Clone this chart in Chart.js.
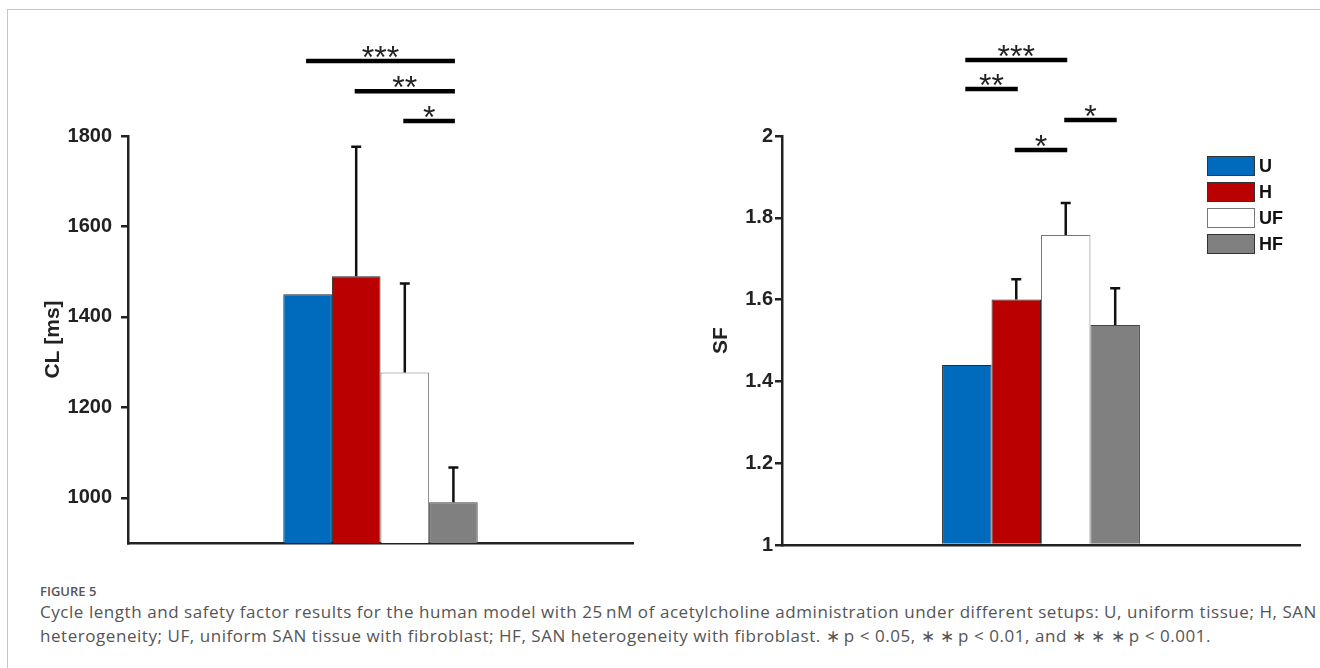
<!DOCTYPE html>
<html>
<head>
<meta charset="utf-8">
<script src="https://cdn.jsdelivr.net/npm/chart.js@4.4.0/dist/chart.umd.min.js"></script>
<style>
  body { margin: 0; background: #fff; width: 1320px; height: 668px; overflow: hidden; position: relative; }
  #frame { position: absolute; left: 7px; top: 9px; width: 1320px; height: 700px;
           border-left: 1px solid #c6c6c6; border-top: 1px solid #c6c6c6; }
  .wrap { position: absolute; top: 0; width: 660px; height: 570px; }
  #legend { position: absolute; left: 1207px; top: 156px; font-family: "Liberation Sans", Arial, sans-serif; }
  .item { height: 26px; display: flex; align-items: flex-start; }
  .box { width: 46px; height: 18px; border: 1px solid #333; }
  .lab { margin-left: 4px; font-weight: bold; font-size: 18px; line-height: 20px; color: #111; }
  #caption { position: absolute; left: 40px; top: 582px; font-family: "Open Sans", sans-serif; color: #555; }
  #fig { font-size: 13px; font-weight: 600; line-height: 18px; color: #555; }
  .cl { font-size: 17px; letter-spacing: 0.55px; line-height: 24px; white-space: nowrap; color: #555; }
</style>
</head>
<body>
<div id="frame"></div>
<div class="wrap" style="left:0"><canvas id="clChart"></canvas></div>
<div class="wrap" style="left:660px"><canvas id="sfChart"></canvas></div>
<div id="legend"></div>
<div id="caption">
  <div id="fig">FIGURE 5</div>
  <div class="cl">Cycle length and safety factor results for the human model with 25&#8201;nM of acetylcholine administration under different setups: U, uniform tissue; H, SAN</div>
  <div class="cl">heterogeneity; UF, uniform SAN tissue with fibroblast; HF, SAN heterogeneity with fibroblast. &#8727;&#8201;p &lt; 0.05, &#8727; &#8727;&#8201;p &lt; 0.01, and &#8727; &#8727; &#8727;&#8201;p &lt; 0.001.</div>
</div>
<script>
const groups = ["U", "H", "UF", "HF"];
const fillColors = ["#006BBD", "#BB0000", "#FFFFFF", "#808080"];
const edgeColors = ["#2a2a2a", "#2a2a2a", "#777777", "#444444"];

// cycle length [ms]
const clMean = [1450, 1490, 1277, 990];
const clErr = [0, 286, 197, 77];
const clTicks = [1000, 1200, 1400, 1600, 1800];
const clSig = [
  { from: 0, to: 3, y: 1966, text: "***" },
  { from: 1, to: 3, y: 1899, text: "**" },
  { from: 2, to: 3, y: 1833, text: "*" }
];

// safety factor
const sfMean = [1.44, 1.6, 1.758, 1.538];
const sfErr = [0, 0.05, 0.078, 0.09];
const sfTicks = [1, 1.2, 1.4, 1.6, 1.8, 2];
const sfSig = [
  { from: 0, to: 2, y: 2.186, text: "***" },
  { from: 0, to: 1, y: 2.115, text: "**" },
  { from: 2, to: 3, y: 2.039, text: "*" },
  { from: 1, to: 2, y: 1.966, text: "*" }
];

const ink = "#222";

const errorBars = {
  id: "errorBars",
  afterDatasetsDraw(chart) {
    const ctx = chart.ctx, y = chart.scales.y;
    chart.data.datasets.forEach((ds, i) => {
      if (!ds.err) return;
      const bar = chart.getDatasetMeta(i).data[0];
      const top = y.getPixelForValue(ds.data[0] + ds.err);
      ctx.save();
      ctx.strokeStyle = "#111";
      ctx.lineWidth = 2.5;
      ctx.beginPath();
      ctx.moveTo(bar.x, bar.y);
      ctx.lineTo(bar.x, top);
      ctx.moveTo(bar.x - 5, top);
      ctx.lineTo(bar.x + 5, top);
      ctx.stroke();
      ctx.restore();
    });
  }
};

const sigBars = {
  id: "sigBars",
  afterDraw(chart, args, opts) {
    const ctx = chart.ctx, y = chart.scales.y;
    (opts.list || []).forEach(s => {
      const x1 = chart.getDatasetMeta(s.from).data[0].x;
      const x2 = chart.getDatasetMeta(s.to).data[0].x;
      const yp = y.getPixelForValue(s.y);
      ctx.save();
      ctx.strokeStyle = "#000";
      ctx.lineWidth = 4.5;
      ctx.beginPath();
      ctx.moveTo(x1 - 1.5, yp);
      ctx.lineTo(x2 + 1.5, yp);
      ctx.stroke();
      ctx.fillStyle = "#222";
      ctx.font = "32px 'Liberation Sans', Arial, sans-serif";
      ctx.textAlign = "center";
      ctx.textBaseline = "alphabetic";
      ctx.fillText(s.text, (x1 + x2) / 2, yp + 7);
      ctx.restore();
    });
  }
};

function makeChart(id, means, errs, ticks, yMin, yMax, title, sig, g) {
  return new Chart(document.getElementById(id), {
    type: "bar",
    data: {
      labels: [""],
      datasets: groups.map((name, i) => ({
        label: name,
        data: [means[i]],
        err: errs[i],
        base: yMin,
        backgroundColor: fillColors[i],
        borderColor: edgeColors[i],
        borderWidth: 1,
        categoryPercentage: g.cat,
        barPercentage: 1
      }))
    },
    options: {
      responsive: true,
      maintainAspectRatio: false,
      animation: false,
      layout: { padding: { left: 0, top: 136, right: g.padRight, bottom: g.padBottom } },
      plugins: {
        legend: { display: false },
        tooltip: { enabled: false },
        sigBars: { list: sig }
      },
      scales: {
        x: {
          grid: { display: false },
          ticks: { display: false },
          border: { display: true, color: ink, width: 2.5 },
          afterFit: s => { s.height = 0; }
        },
        y: {
          min: yMin,
          max: yMax,
          afterBuildTicks: s => { s.ticks = ticks.map(v => ({ value: v })); },
          afterFit: s => { s.width = g.axisW; },
          grid: { drawOnChartArea: false, drawTicks: true, tickLength: 7, color: ink, lineWidth: 2.5 },
          border: { display: true, color: ink, width: 2.5 },
          ticks: {
            padding: g.tickPad,
            color: ink,
            font: { family: "'Liberation Sans', Arial, sans-serif", size: 20, weight: "bold" },
            callback: v => String(v)
          },
          title: {
            display: true,
            text: title,
            color: ink,
            font: { family: "'Liberation Sans', Arial, sans-serif", size: 21, weight: "bold" },
            padding: { top: g.titlePad, bottom: 0 }
          }
        }
      }
    },
    plugins: [errorBars, sigBars]
  });
}

makeChart("clChart", clMean, clErr, clTicks, 900, 1800, "CL [ms]", clSig,
  { cat: 0.385, padRight: 27, padBottom: 27, axisW: 128, tickPad: 9, titlePad: 41 });
makeChart("sfChart", sfMean, sfErr, sfTicks, 1, 2, "SF", sfSig,
  { cat: 0.382, padRight: 20, padBottom: 25, axisW: 122, tickPad: 2, titlePad: 49 });

const legend = document.getElementById("legend");
groups.forEach((name, i) => {
  const item = document.createElement("div");
  item.className = "item";
  item.innerHTML = '<div class="box" style="background:' + fillColors[i] + ';border-color:' +
    (i === 2 ? "#777" : "#333") + '"></div><div class="lab">' + name + '</div>';
  legend.appendChild(item);
});
</script>
</body>
</html>
